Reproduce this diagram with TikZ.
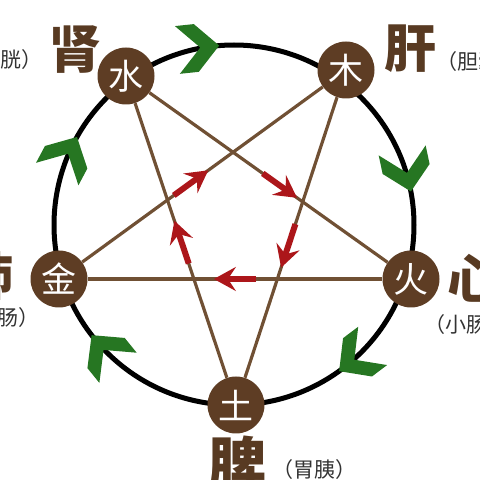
\documentclass[tikz,border=0pt]{standalone}
\usepackage{fontspec}
\newfontfamily\cjk{Noto Sans CJK SC}
\usepackage{tikz}
\usetikzlibrary{arrows.meta,calc,positioning}

\definecolor{nodebrown}{RGB}{94,61,36}
\definecolor{linebrown}{RGB}{112,80,52}
\definecolor{labelbrown}{RGB}{88,58,34}
\definecolor{arrowred}{RGB}{172,22,26}
\definecolor{leafgreen}{RGB}{38,118,34}

\begin{document}
\begin{tikzpicture}[x=1pt, y=1pt]
    \tikzstyle{element} = [circle, fill=nodebrown, minimum size=57pt, inner sep=0pt, text=white, font=\cjk\fontsize{35}{35}\selectfont]
    \tikzstyle{organ} = [inner sep=0pt, text=labelbrown, font=\cjk\bfseries\fontsize{52}{52}\selectfont]
    \tikzstyle{fu} = [inner sep=0pt, text=black!80, font=\cjk\fontsize{21}{21}\selectfont]
    \tikzstyle{ring} = [line width=5pt, black]
    \tikzstyle{star} = [line width=3.2pt, linebrown]
    \tikzstyle{ke} = [line width=6pt, arrowred, -{Stealth[length=22pt, width=24pt, inset=8pt]}]
    \tikzstyle{chevron} = [fill=leafgreen]

    % Frame
    \useasboundingbox (0,0) rectangle (480,480);
    \clip (0,0) rectangle (480,480);

    % Outer ring
    \coordinate (c) at (234,255);
    \draw [ring] (c) circle [radius=180];

    % Ring arrows - clockwise
    \foreach \a in {96,12,-53,-141,152}
        \fill [chevron, shift={($(c)+(\a:180)$)}, rotate=\a-90]
            (4,0) -- (-19,24) -- (-38,24) -- (-15,0) -- (-38,-24) -- (-19,-24) -- cycle;

    % Elements
    \node [element] (shui) at (126,404) {水};
    \node [element] (mu) at (346,410) {木};
    \node [element] (huo) at (411,201) {火};
    \node [element] (tu) at (236,75) {土};
    \node [element] (jin) at (59,201) {金};

    % Star
    \draw [star] (shui) -- (huo);
    \draw [star] (shui) -- (tu);
    \draw [star] (mu) -- (jin);
    \draw [star] (mu) -- (tu);
    \draw [star] (jin) -- (huo);

    % Star arrows
    \draw [ke] ($(shui)!0.48!(huo)$) -- ($(shui)!0.60!(huo)$);
    \draw [ke] ($(mu)!0.46!(tu)$) -- ($(mu)!0.59!(tu)$);
    \draw [ke] ($(huo)!0.44!(jin)$) -- ($(huo)!0.56!(jin)$);
    \draw [ke] ($(tu)!0.43!(shui)$) -- ($(tu)!0.56!(shui)$);
    \draw [ke] ($(jin)!0.40!(mu)$) -- ($(jin)!0.52!(mu)$);

    % Organs
    \node [organ] (shen) at (75,430) {肾};
    \node [organ] (gan) at (410,431) {肝};
    \node [organ, anchor=east] (fei) at (14,204) {肺};
    \node [organ, anchor=west] (xin) at (447,202) {心};
    \node [organ, font=\cjk\bfseries\fontsize{58}{58}\selectfont] (pi) at (237,16) {脾};

    \node [fu, anchor=east] (pangguang) at (43,420) {（膀胱）};
    \node [fu, anchor=west] (dan) at (436,418) {（胆囊）};
    \node [fu, anchor=east] (dachang) at (40,162) {（大肠）};
    \node [fu, anchor=west] (xiaochang) at (424,155) {（小肠）};
    \node [fu, anchor=west] (wei) at (272,10) {（胃胰）};
\end{tikzpicture}
\end{document}
